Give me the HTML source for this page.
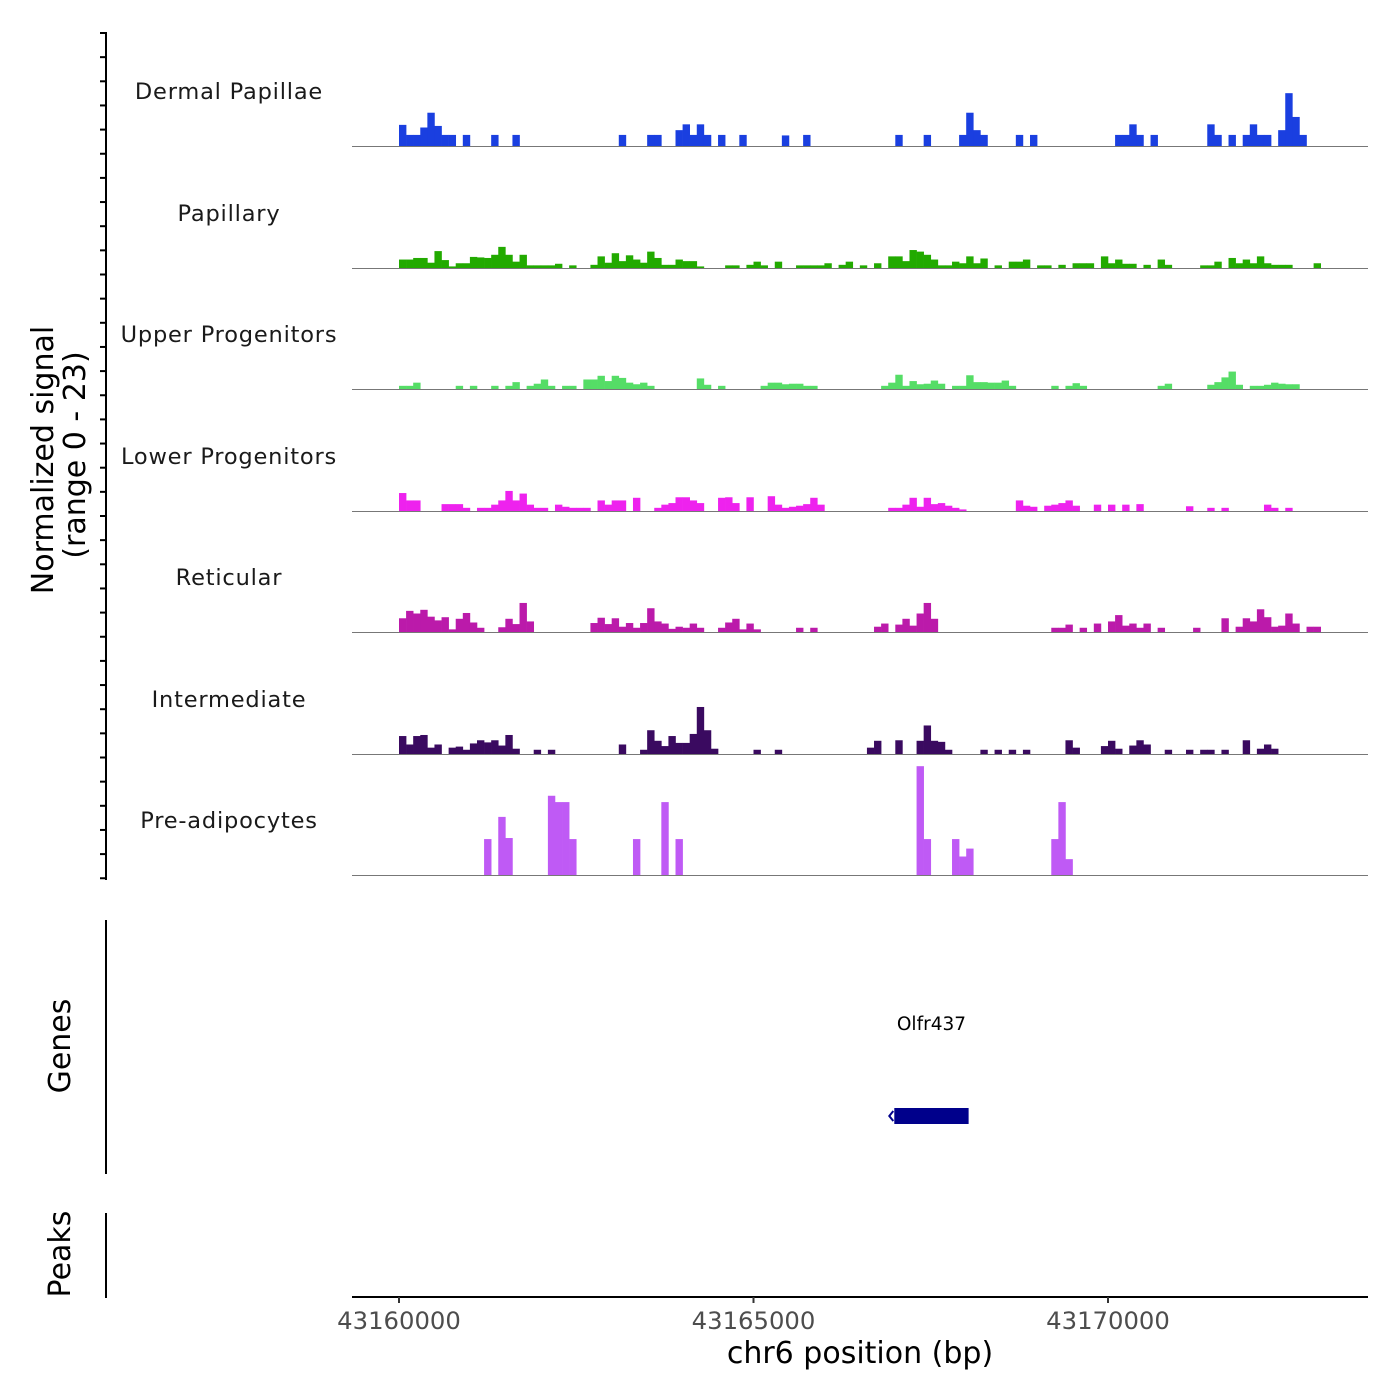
<!DOCTYPE html>
<html><head><meta charset="utf-8"><style>
body{margin:0;background:#fff}
svg{display:block;font-family:"DejaVu Sans","Liberation Sans",sans-serif}
</style></head><body>
<svg id="chart" width="1400" height="1400" viewBox="0 0 1400 1400" xmlns="http://www.w3.org/2000/svg">
<g id="tracks"></g>
<g id="axes"></g>
</svg>
<script>
const regionStart = 43160000;
const binSize = 100;
const yMax = 23;
const trackNames = ["Dermal Papillae","Papillary","Upper Progenitors","Lower Progenitors","Reticular","Intermediate","Pre-adipocytes"];
const trackColors = ["#1a3fe0","#22aa00","#55dd66","#ee22ee","#bb1aaa","#3a0a60","#bf5af5"];
const xTicks = [43160000,43165000,43170000];
const xTickLabels = ["43160000","43165000","43170000"];
const geneName = "Olfr437";
const geneStart = 43167000;
const geneEnd = 43168020;

// sparse bin values: [binIndex, value]
const dpBins = [[0,4],[1,2.1],[2,2.1],[3,3.5],[4,6.3],[5,3.8],[6,2.1],[7,2.1],[9,2.1],[13,2.1],[16,2.1],[31,2.1],[35,2.1],[36,2.1],[39,3],[40,4.1],[41,2.1],[42,4.1],[43,2.1],[45,2.1],[48,2.1],[54,2],[57,2.1],[70,2.1],[74,2.1],[79,2.1],[80,6.3],[81,3],[82,2.1],[87,2.1],[89,2.1],[101,2.1],[102,2.1],[103,4.1],[104,2.1],[106,2.1],[114,4.1],[115,2.1],[117,2.1],[119,2.1],[120,4.1],[121,2.1],[122,2.1],[124,3],[125,10],[126,5.5],[127,2.1]];
const papBins = [[0,1.6],[1,1.6],[2,1.9],[3,1.9],[4,1],[5,3.2],[6,1.5],[7,0.3],[8,0.9],[9,0.9],[10,2.1],[11,2.0],[12,1.9],[13,2.5],[14,4],[15,2.5],[16,1.2],[17,2.5],[18,0.5],[19,0.5],[20,0.5],[21,0.5],[22,0.8],[24,0.5],[27,0.6],[28,2.2],[29,1.0],[30,2.8],[31,1.3],[32,2.4],[33,1.6],[34,1],[35,3.1],[36,1.9],[37,0.6],[38,0.6],[39,1.6],[40,1.3],[41,1.3],[42,0.3],[46,0.5],[47,0.5],[49,0.6],[50,1.2],[51,0.5],[53,1.2],[56,0.5],[57,0.5],[58,0.5],[59,0.5],[60,0.9],[62,0.6],[63,1.2],[65,0.5],[67,0.9],[69,2.2],[70,2.2],[71,1.3],[72,3.4],[73,3.1],[74,2.5],[75,1.6],[76,0.5],[77,0.5],[78,1.2],[79,0.9],[80,2.2],[81,0.9],[82,1.8],[84,0.5],[86,1.2],[87,1.2],[88,1.6],[90,0.5],[91,0.5],[93,0.6],[95,0.9],[96,0.9],[97,0.9],[99,2.2],[100,0.9],[101,1.6],[102,0.8],[103,0.8],[105,0.6],[107,1.6],[108,0.6],[113,0.5],[114,0.5],[115,1.2],[117,1.9],[118,0.9],[119,1.6],[120,0.9],[121,2.2],[122,0.9],[123,0.6],[124,0.6],[125,0.6],[129,0.9]];
const upBins = [[0,0.6],[1,0.6],[2,1.2],[8,0.6],[10,0.6],[13,0.6],[15,0.6],[16,1.3],[18,0.6],[19,1],[20,1.8],[21,0.6],[23,0.6],[24,0.6],[26,1.8],[27,1.8],[28,2.5],[29,1.5],[30,2.5],[31,2.1],[32,1.2],[33,0.9],[34,1.2],[35,0.6],[42,2.0],[43,0.8],[45,0.6],[51,0.6],[52,1.2],[53,1.2],[54,0.9],[55,1.0],[56,1.0],[57,0.6],[58,0.6],[68,0.6],[69,1.2],[70,2.7],[71,0.6],[72,1.5],[73,0.9],[74,1.0],[75,1.6],[76,1.0],[78,0.6],[79,0.6],[80,2.6],[81,1.3],[82,1.3],[83,1.2],[84,1.2],[85,1.6],[86,0.6],[92,0.6],[94,0.6],[95,1.1],[96,0.6],[107,0.6],[108,1.0],[114,0.8],[115,1.3],[116,2.2],[117,3.3],[118,0.8],[120,0.6],[121,0.6],[122,0.8],[123,1.2],[124,1.0],[125,0.9],[126,0.9]];
const lpBins = [[0,3.4],[1,2],[2,2.0],[6,1.3],[7,1.3],[8,1.3],[9,0.6],[11,0.6],[12,0.6],[13,1.2],[14,2.0],[15,3.8],[16,2.0],[17,3.3],[18,1.2],[19,0.6],[20,0.6],[22,1.2],[23,0.8],[24,0.6],[25,0.6],[26,0.6],[28,2],[29,1.2],[30,2.0],[31,2.0],[33,2.5],[36,0.6],[37,1.2],[38,1.5],[39,2.6],[40,2.6],[41,2.0],[42,1.5],[45,2.5],[46,2.6],[47,1.5],[49,2.6],[52,2.8],[53,1.2],[54,0.6],[55,0.8],[56,1.0],[57,1.3],[58,2.5],[59,1.2],[69,0.6],[70,0.6],[71,1.2],[72,2.5],[73,0.8],[74,2.5],[75,1.3],[76,1.5],[77,1.0],[78,0.6],[79,0.3],[87,2.0],[88,1.0],[89,0.8],[91,1.0],[92,1.2],[93,1.5],[94,2.0],[95,1.0],[98,1.2],[100,1.2],[102,1.2],[104,1.3],[111,0.9],[114,0.6],[116,0.6],[122,1.2],[123,0.6],[125,0.6]];
const retBins = [[0,2.6],[1,4.0],[2,3.5],[3,4.2],[4,2.9],[5,2.2],[6,2.8],[7,0.5],[8,2.5],[9,3.6],[10,1.8],[11,0.8],[14,0.9],[15,2.5],[16,1.5],[17,5.5],[18,2.0],[27,1.7],[28,2.7],[29,1.5],[30,2.6],[31,1.0],[32,1.7],[33,0.8],[34,1.7],[35,4.5],[36,2.0],[37,1.6],[38,0.6],[39,1.0],[40,0.8],[41,1.6],[42,0.8],[45,0.8],[46,1.8],[47,2.5],[48,0.5],[49,1.6],[50,0.5],[56,0.8],[58,0.8],[67,1.0],[68,1.6],[70,1.4],[71,2.5],[72,1.2],[73,3.5],[74,5.5],[75,2.5],[92,0.8],[93,0.8],[94,1.4],[96,0.8],[98,1.6],[100,2.0],[101,3.2],[102,1.2],[103,1.6],[104,0.8],[105,1.6],[107,0.8],[112,0.8],[116,2.6],[118,1.0],[119,2.6],[120,2.0],[121,4.3],[122,2.8],[123,1.0],[124,1.2],[125,3.5],[126,1.6],[128,1.0],[129,1.0]];
const intBins = [[0,3.4],[1,1.8],[2,3.4],[3,3.6],[4,1.2],[5,1.8],[7,1.2],[8,1.4],[9,0.8],[10,2.0],[11,2.6],[12,2.2],[13,2.6],[14,1.6],[15,3.6],[16,1.0],[19,0.8],[21,0.8],[31,1.8],[34,0.8],[35,4.5],[36,2.5],[37,1.5],[38,3.4],[39,2.1],[40,2.1],[41,3.8],[42,8.9],[43,4.5],[44,1.0],[50,0.8],[53,0.8],[66,1.2],[67,2.5],[70,2.6],[73,2.5],[74,5.4],[75,2.5],[76,2.3],[77,0.8],[82,0.8],[84,0.8],[86,0.8],[88,0.8],[94,2.6],[95,1.2],[99,1.5],[100,2.5],[101,1.0],[103,1.6],[104,2.6],[105,1.8],[108,0.8],[111,0.8],[113,0.8],[114,0.8],[116,0.8],[119,2.6],[121,1.0],[122,1.8],[123,1.0]];
const preBins = [[12,6.8],[14,11],[15,7],[21,15],[22,13.8],[23,13.8],[24,6.8],[33,6.8],[37,13.8],[39,6.8],[73,20.6],[74,6.8],[78,6.8],[79,3.5],[80,5],[92,6.8],[93,13.8],[94,3]];
const trackData = [dpBins,papBins,upBins,lpBins,retBins,intBins,preBins];

const NS="http://www.w3.org/2000/svg";
const px0=399, pxPerBp=354.5/5000, plotL=352, plotR=1368;
const xScale = bp => px0 + (bp - regionStart)*pxPerBp;
const baselines=[146,268,389,511,632,754,875];
const trackH=121.5;
const yScale = (v,ti) => baselines[ti] - v/yMax*trackH;
function mk(tag,attrs,parent){const e=document.createElementNS(NS,tag);for(const k in attrs)e.setAttribute(k,attrs[k]);parent.appendChild(e);return e;}
const tg=document.getElementById('tracks'), ag=document.getElementById('axes');

trackData.forEach((bins,ti)=>{
  const g=mk('g',{},tg);
  
  
  const lab=mk('text',{x:229,y:baselines[ti]-47,'text-anchor':'middle','font-size':'22.5',fill:'#1a1a1a','letter-spacing':'0.8'},g);
  lab.textContent=trackNames[ti];
  
  
  bins.forEach(([b,v])=>{
    const x1=xScale(regionStart+b*binSize), x2=xScale(regionStart+(b+1)*binSize);
    const y=yScale(v,ti);
    const r=mk('rect',{x:x1.toFixed(2),y:y.toFixed(2),width:(x2-x1+0.3).toFixed(2),height:(baselines[ti]-y).toFixed(2),fill:trackColors[ti]},g);
    
    
  });
  const bl=mk('line',{x1:plotL,x2:plotR,y1:baselines[ti]+0.5,y2:baselines[ti]+0.5,stroke:'#777','stroke-width':1},g);
  
  
});

// left signal axis
let l=mk('line',{x1:106,x2:106,y1:32,y2:880,stroke:'#000','stroke-width':2},ag);


for(let i=0;i<36;i++){const y=33+i*24.15;const t=mk('line',{x1:100,x2:106,y1:y,y2:y,stroke:'#000','stroke-width':2},ag);

}
function rtext(txt,x,y,size,name){const t=mk('text',{x:x,y:y,'text-anchor':'middle','font-size':size,fill:'#000',transform:`rotate(-90 ${x} ${y})`},ag);t.textContent=txt;

}
rtext('Normalized signal',53,460,30,'y-axis-title');
rtext('(range 0 - 23)',85,455,30,'y-axis-range');
rtext('Genes',70,1046,30,'genes-axis-title');
rtext('Peaks',70,1254,30,'peaks-axis-title');
l=mk('line',{x1:106,x2:106,y1:920,y2:1174,stroke:'#000','stroke-width':2},ag);


l=mk('line',{x1:106,x2:106,y1:1213,y2:1298,stroke:'#000','stroke-width':2},ag);



// gene
const gt=mk('text',{x:(xScale(geneStart)+xScale(geneEnd))/2,y:1030,'text-anchor':'middle','font-size':'18.5',fill:'#000'},ag);
gt.textContent=geneName;


const gr=mk('rect',{x:xScale(geneStart)-1,y:1108,width:xScale(geneEnd)-xScale(geneStart)+2,height:16,fill:'#00008b'},ag);


const ga=mk('path',{d:`M${xScale(geneStart)-2} 1111 L${xScale(geneStart)-6} 1116 L${xScale(geneStart)-2} 1121`,stroke:'#00008b','stroke-width':2,fill:'none'},ag);



// x axis
l=mk('line',{x1:plotL,x2:plotR,y1:1297,y2:1297,stroke:'#000','stroke-width':2},ag);


xTicks.forEach((v,i)=>{const x=xScale(v);
const t=mk('line',{x1:x,x2:x,y1:1297,y2:1303,stroke:'#333','stroke-width':2},ag);


const tl=mk('text',{x:x,y:1329,'text-anchor':'middle','font-size':'24.3',fill:'#4d4d4d'},ag);tl.textContent=xTickLabels[i];

});
const xt=mk('text',{x:860,y:1363,'text-anchor':'middle','font-size':'30',fill:'#000'},ag);
xt.textContent='chr6 position (bp)';


</script>
</body></html>
